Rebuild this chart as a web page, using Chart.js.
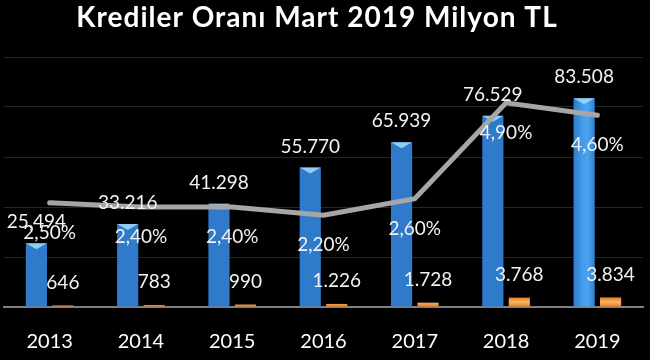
<!DOCTYPE html>
<html>
<head>
<meta charset="utf-8">
<script src="https://cdn.jsdelivr.net/npm/chart.js@4/dist/chart.umd.min.js"></script>
<style>
  html, body { margin: 0; padding: 0; background: #000; }
  #wrap { width: 650px; height: 360px; }
</style>
</head>
<body>
<div id="wrap"><canvas id="c" width="650" height="360"></canvas></div>
<script>
const titleText = 'Krediler Oranı Mart 2019 Milyon TL';
const categories = ['2013', '2014', '2015', '2016', '2017', '2018', '2019'];
const krediler = [25494, 33216, 41298, 55770, 65939, 76529, 83508];
const kredilerLabels = ['25,494', '33.216', '41.298', '55.770', '65.939', '76.529', '83.508'];
const takipteki = [646, 783, 990, 1226, 1728, 3768, 3834];
const oran = [2.5, 2.4, 2.4, 2.2, 2.6, 4.9, 4.6];
const yTicks = [0, 20000, 40000, 60000, 80000, 100000];

function fmtThousands(v) {
  return String(v).replace(/\B(?=(\d{3})+(?!\d))/g, '.');
}
function fmtPct(v) {
  return v.toFixed(2).replace('.', ',') + '%';
}

const bgPlugin = {
  id: 'bg',
  beforeDraw(chart) {
    const c = chart.ctx;
    c.save();
    c.fillStyle = '#000';
    c.fillRect(0, 0, chart.width, chart.height);
    c.fillStyle = '#fff';
    c.font = 'bold 28px Lato';
    if ('letterSpacing' in c) c.letterSpacing = '1px';
    c.textAlign = 'center';
    c.textBaseline = 'middle';
    c.fillText(titleText, 317, 18);
    c.restore();
  }
};

const stylePlugin = {
  id: 'barStyle',
  afterDatasetsUpdate(chart) {
    const c = chart.ctx;
    chart.getDatasetMeta(0).data.forEach(el => {
      const l = el.x - el.width / 2, r = el.x + el.width / 2;
      const g = c.createLinearGradient(l, 0, r, 0);
      g.addColorStop(0, '#2f7acb');
      g.addColorStop(0.35, '#3f97e6');
      g.addColorStop(0.65, '#4ca4f0');
      g.addColorStop(1, '#3080d0');
      el.options.backgroundColor = g;
    });
    chart.getDatasetMeta(1).data.forEach(el => {
      const g = c.createLinearGradient(0, el.y, 0, el.base);
      g.addColorStop(0, '#e07a22');
      g.addColorStop(0.5, '#ffb45e');
      g.addColorStop(1, '#e67f24');
      el.options.backgroundColor = g;
    });
  },
  afterDatasetDraw(chart, args) {
    if (args.index !== 0) return;
    const c = chart.ctx;
    c.save();
    args.meta.data.forEach(el => {
      const l = el.x - el.width / 2, r = el.x + el.width / 2;
      c.fillStyle = 'rgba(160,220,255,0.85)';
      c.beginPath();
      c.moveTo(l, el.y);
      c.lineTo(r, el.y);
      c.lineTo(el.x, el.y + 6);
      c.closePath();
      c.fill();
    });
    c.restore();
  }
};

const labelPlugin = {
  id: 'valLabels',
  afterDatasetsDraw(chart) {
    const c = chart.ctx;
    c.save();
    c.font = '19px Lato';
    c.fillStyle = '#f2f2f2';
    c.textAlign = 'center';
    c.textBaseline = 'middle';
    chart.getDatasetMeta(0).data.forEach((el, i) => {
      c.fillText(kredilerLabels[i], el.x, el.y - 21);
    });
    chart.getDatasetMeta(1).data.forEach((el, i) => {
      c.fillText(fmtThousands(takipteki[i]), el.x, el.y - 23);
    });
    chart.getDatasetMeta(2).data.forEach((el, i) => {
      c.fillText(fmtPct(oran[i]), el.x, el.y + 30);
    });
    c.restore();
  }
};

new Chart(document.getElementById('c'), {
  data: {
    labels: categories,
    datasets: [
      {
        type: 'bar',
        label: 'Krediler',
        data: krediler,
        backgroundColor: '#3a8ee0',
        yAxisID: 'y',
        order: 1,
        categoryPercentage: 0.58,
        barPercentage: 0.8
      },
      {
        type: 'bar',
        label: 'Takipteki Krediler',
        data: takipteki,
        backgroundColor: '#e87d22',
        yAxisID: 'y',
        order: 2,
        categoryPercentage: 0.58,
        barPercentage: 0.8
      },
      {
        type: 'line',
        label: 'Oran',
        data: oran,
        yAxisID: 'y1',
        borderColor: '#a6a6a6',
        borderWidth: 5,
        pointRadius: 0,
        tension: 0,
        borderCapStyle: 'round',
        order: 0
      }
    ]
  },
  options: {
    responsive: false,
    animation: false,
    layout: { padding: { top: 57, left: 4, right: 7, bottom: 0 } },
    plugins: {
      legend: { display: false },
      title: { display: false },
      tooltip: { enabled: false }
    },
    scales: {
      x: {
        grid: { display: false, drawTicks: false },
        border: { display: true, color: '#7f7f7f', width: 2 },
        ticks: { color: '#ffffff', font: { family: 'Lato', size: 20 }, padding: 23 },
        afterFit(scale) { scale.height = 53; }
      },
      y: {
        min: yTicks[0],
        max: yTicks[yTicks.length - 1],
        afterBuildTicks(scale) { scale.ticks = yTicks.map(v => ({ value: v })); },
        ticks: { display: false },
        grid: { color: '#262626', lineWidth: 1, drawTicks: false },
        border: { display: false }
      },
      y1: {
        position: 'right',
        min: 0,
        max: 6,
        display: false
      }
    }
  },
  plugins: [bgPlugin, stylePlugin, labelPlugin]
});
</script>
</body>
</html>
